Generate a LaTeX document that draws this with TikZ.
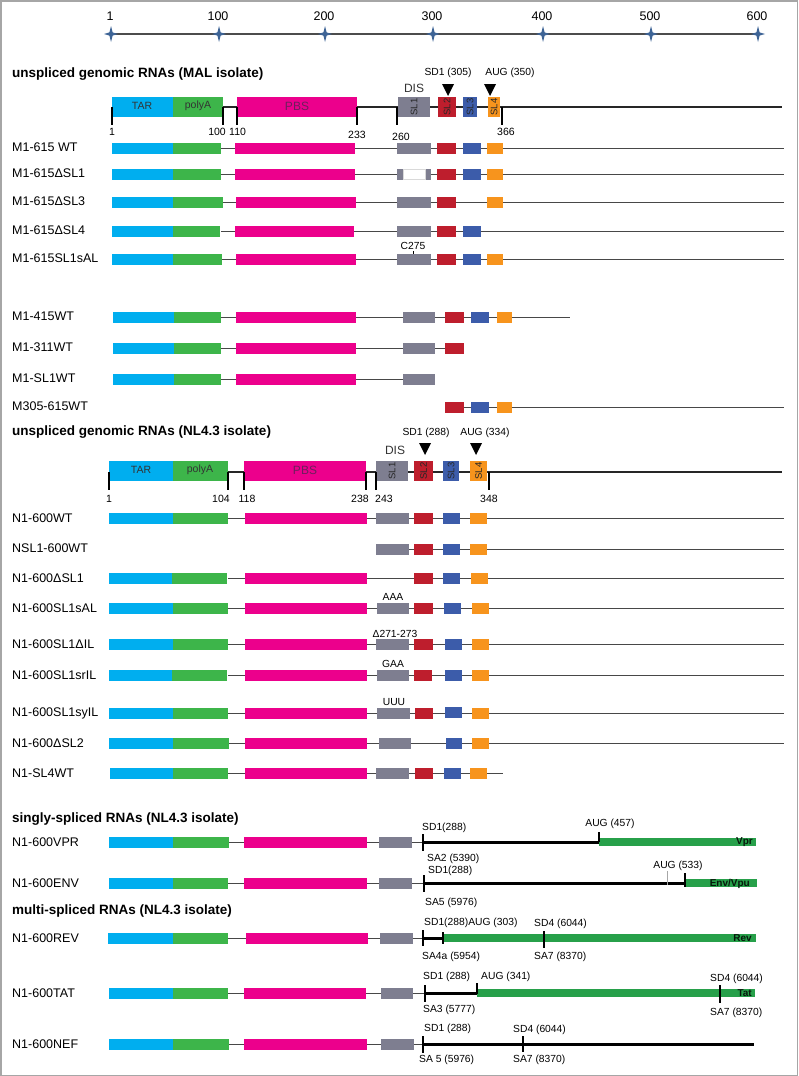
\documentclass[tikz,border=0pt]{standalone}
\usepackage{fontspec}
\setmainfont{Liberation Sans}
\definecolor{tar}{HTML}{00AEEF}
\definecolor{polya}{HTML}{3DB54A}
\definecolor{pbs}{HTML}{EC008C}
\definecolor{sl1}{HTML}{7E7E90}
\definecolor{sl2}{HTML}{BE1E2D}
\definecolor{sl3}{HTML}{3C5CAA}
\definecolor{sl4}{HTML}{F7941D}
\definecolor{orf}{HTML}{27A04A}
\definecolor{starblue}{HTML}{3E6496}
\definecolor{pbstxt}{HTML}{6D1F5D}
\newcommand\bx[5][5.5]{\fill[#2] (#3,#5-#1) rectangle (#4,#5+#1);}
\tikzset{
  frame/.style={draw=black!35,line width=1.5pt},
  rowline/.style={draw=black!72,line width=1pt},
  hdrline/.style={draw=black!85,line width=1.1pt},
  tickline/.style={draw=black,line width=1.2pt},
  thick line/.style={draw=black,line width=3pt},
  lbl/.style={anchor=west,font=\fontsize{12.5}{13}\selectfont,inner sep=0pt},
  hdr/.style={anchor=west,font=\bfseries\fontsize{13.5}{14}\selectfont,inner sep=0pt},
  small/.style={font=\fontsize{10.3}{11}\selectfont,inner sep=0pt},
  mapnum/.style={font=\fontsize{10.5}{11}\selectfont,inner sep=0pt},
  scalenum/.style={font=\fontsize{12.5}{13}\selectfont,inner sep=0pt},
  boxtxt/.style={font=\fontsize{10.5}{11}\selectfont,inner sep=0pt,text=black!80},
  pbsbox/.style={font=\fontsize{12}{12}\selectfont,inner sep=0pt,text=pbstxt},
  sltxt/.style={font=\fontsize{9.5}{10}\selectfont,inner sep=0pt,rotate=90,text=black!85},
  orftxt/.style={font=\bfseries\fontsize{10}{10}\selectfont,inner sep=0pt,anchor=east,text=black!85!orf},
  tri/.style={fill=black},
}
\begin{document}
\begin{tikzpicture}[x=1pt,y=-1pt]
\useasboundingbox (0,0) rectangle (798,1076);
\draw[frame] (0.75,0.75) rectangle (797.25,1075.25);

% ---------- scale ----------
\draw[black!70,line width=1.3pt] (111,34) -- (758,34);
\foreach \xx/\lab [count=\k] in {111/1,219/100,325/200,433/300,543/400,651/500,758/600} {
  \fill[starblue] (\xx,26) -- (\xx+1.6,32.4) -- (\xx+7,34) -- (\xx+1.6,35.6) -- (\xx,42) -- (\xx-1.6,35.6) -- (\xx-7,34) -- (\xx-1.6,32.4) -- cycle;
  \node[scalenum] (s\k) at (\xx-1,16) {\lab};
}

% ---------- MAL header ----------
\node[hdr] (hmal) at (12,74) {unspliced genomic RNAs (MAL isolate)};
\draw[hdrline] (112,107) -- (782,107);
\bx[10]{tar}{112}{173}{107}
\bx[10]{polya}{173}{223}{107}
\bx[10]{pbs}{237}{357}{107}
\bx[10]{sl1}{398}{430}{107}
\bx[10]{sl2}{438}{456}{107}
\bx[10]{sl3}{463}{477}{107}
\bx[10]{sl4}{488}{500}{107}
\foreach \xx in {112,223,237,357,397,502} \draw[tickline] (\xx,107) -- (\xx,125);
\node[boxtxt] (mtar) at (142,106) {TAR};
\node[boxtxt] (mpolya) at (198,106) {polyA};
\node[pbsbox] (mpbs) at (297,106) {PBS};
\node[sltxt] (msl1) at (414,107) {SL1};
\node[sltxt] (msl2) at (447,107) {SL2};
\node[sltxt] (msl3) at (470,107) {SL3};
\node[sltxt] (msl4) at (494,107) {SL4};
\node[font=\fontsize{12}{12}\selectfont,inner sep=0pt,text=black!80] (mdis) at (414,88) {DIS};
\node[small] (msd1) at (448,73) {SD1 (305)};
\node[small] (maug) at (510,73) {AUG (350)};
\fill[tri] (442,84) -- (454,84) -- (448,96) -- cycle;
\fill[tri] (484,84) -- (496,84) -- (490,96) -- cycle;
\node[mapnum] (mn1) at (112,132) {1};
\node[mapnum,anchor=east] (mn100) at (226,132) {100};
\node[mapnum,anchor=west] (mn110) at (229,132) {110};
\node[mapnum] (mn233) at (357,135) {233};
\node[mapnum] (mn260) at (401,137) {260};
\node[mapnum] (mn366) at (506,132) {366};

% ---------- MAL rows ----------
\draw[rowline] (221,148) -- (784,148);
\bx{tar}{112}{173}{148}\bx{polya}{173}{221}{148}\bx{pbs}{235}{355}{148}
\bx{sl1}{397}{431}{148}\bx{sl2}{437}{456}{148}\bx{sl3}{463}{481}{148}\bx{sl4}{487}{503}{148}
\node[lbl] (r1) at (12,147) {M1-615 WT};
\draw[rowline] (221,174) -- (784,174);
\bx{tar}{112}{173}{174}\bx{polya}{173}{221}{174}\bx{pbs}{235}{355}{174}
\bx{sl1}{397}{431}{174}\fill[white,draw=black!15,line width=0.4pt] (403,168.8) rectangle (425,179.2);
\bx{sl2}{437}{456}{174}\bx{sl3}{463}{481}{174}\bx{sl4}{487}{503}{174}
\node[lbl] (r2) at (12,173) {M1-615ΔSL1};
\draw[rowline] (221,202) -- (784,202);
\bx{tar}{112}{173}{202}\bx{polya}{173}{223}{202}\bx{pbs}{236}{356}{202}
\bx{sl1}{397}{431}{202}\bx{sl2}{437}{456}{202}\bx{sl4}{487}{503}{202}
\node[lbl] (r3) at (12,201) {M1-615ΔSL3};
\draw[rowline] (221,231) -- (784,231);
\bx{tar}{112}{173}{231}\bx{polya}{173}{220}{231}\bx{pbs}{235}{354}{231}
\bx{sl1}{397}{431}{231}\bx{sl2}{437}{456}{231}\bx{sl3}{463}{481}{231}
\node[lbl] (r4) at (12,230) {M1-615ΔSL4};
\draw[rowline] (221,259) -- (784,259);
\bx{tar}{112}{173}{259}\bx{polya}{173}{222}{259}\bx{pbs}{236}{356}{259}
\bx{sl1}{397}{431}{259}\bx{sl2}{437}{456}{259}\bx{sl3}{463}{481}{259}\bx{sl4}{487}{503}{259}
\draw[black,line width=0.6pt] (413,251) -- (413,254);
\node[small] (c275) at (413,246) {C275};
\node[lbl] (r5) at (12,258) {M1-615SL1sAL};

\draw[rowline] (221,317) -- (570,317);
\bx{tar}{113}{174}{317}\bx{polya}{174}{221}{317}\bx{pbs}{236}{356}{317}
\bx{sl1}{403}{435}{317}\bx{sl2}{445}{464}{317}\bx{sl3}{471}{489}{317}\bx{sl4}{497}{512}{317}
\node[lbl] (r6) at (12,316) {M1-415WT};
\draw[rowline] (221,348) -- (445,348);
\bx{tar}{113}{174}{348}\bx{polya}{174}{221}{348}\bx{pbs}{236}{356}{348}
\bx{sl1}{403}{435}{348}\bx{sl2}{445}{464}{348}
\node[lbl] (r7) at (12,347) {M1-311WT};
\draw[rowline] (221,379) -- (403,379);
\bx{tar}{113}{174}{379}\bx{polya}{174}{221}{379}\bx{pbs}{236}{356}{379}
\bx{sl1}{403}{435}{379}
\node[lbl] (r8) at (12,378) {M1-SL1WT};
\draw[rowline] (464,407) -- (784,407);
\bx{sl2}{445}{464}{407}\bx{sl3}{471}{489}{407}\bx{sl4}{497}{512}{407}
\node[lbl] (r9) at (12,406) {M305-615WT};

% ---------- NL4.3 header ----------
\node[hdr] (hnl) at (12,432) {unspliced genomic RNAs (NL4.3 isolate)};
\draw[hdrline] (109,472) -- (782,472);
\bx[10]{tar}{109}{173}{471}
\bx[10]{polya}{173}{228}{471}
\bx[10]{pbs}{244}{366}{471}
\bx[10]{sl1}{376}{408}{471}
\bx[10]{sl2}{414}{433}{471}
\bx[10]{sl3}{443}{459}{471}
\bx[10]{sl4}{470}{487}{471}
\foreach \xx in {109,228,244,366,376,489} \draw[tickline] (\xx,472) -- (\xx,490);
\node[boxtxt] (ntar) at (141,470) {TAR};
\node[boxtxt] (npolya) at (200,470) {polyA};
\node[pbsbox] (npbs) at (305,470) {PBS};
\node[sltxt] (nsl1) at (392,471) {SL1};
\node[sltxt] (nsl2) at (423.5,471) {SL2};
\node[sltxt] (nsl3) at (451,471) {SL3};
\node[sltxt] (nsl4) at (478.5,471) {SL4};
\node[font=\fontsize{12}{12}\selectfont,inner sep=0pt,text=black!80] (ndis) at (395,450) {DIS};
\node[small] (nsd1) at (426,433) {SD1 (288)};
\node[small] (naug) at (485,433) {AUG (334)};
\fill[tri] (419,443) -- (431,443) -- (425,455) -- cycle;
\fill[tri] (470,443) -- (482,443) -- (476,455) -- cycle;
\node[mapnum] (nn1) at (109,499) {1};
\node[mapnum] (nn104) at (221,499) {104};
\node[mapnum] (nn118) at (247,499) {118};
\node[mapnum] (nn238) at (360,499) {238};
\node[mapnum] (nn243) at (384,499) {243};
\node[mapnum] (nn348) at (489,499) {348};

% ---------- NL4.3 rows ----------
\draw[rowline] (228,518) -- (784,518);
\bx{tar}{109}{173}{518}\bx{polya}{173}{228}{518}\bx{pbs}{245}{367}{518}
\bx{sl1}{376}{409}{518}\bx{sl2}{414}{433}{518}\bx{sl3}{443}{460}{518}\bx{sl4}{470}{487}{518}
\node[lbl] (q1) at (12,518) {N1-600WT};
\draw[rowline] (376,549) -- (784,549);
\bx{sl1}{376}{409}{549}\bx{sl2}{414}{433}{549}\bx{sl3}{443}{460}{549}\bx{sl4}{470}{487}{549}
\node[lbl] (q2) at (12,548) {NSL1-600WT};
\draw[rowline] (228,578) -- (784,578);
\bx{tar}{109}{172}{578}\bx{polya}{172}{227}{578}\bx{pbs}{245}{367}{578}
\bx{sl2}{414}{433}{578}\bx{sl3}{443}{460}{578}\bx{sl4}{471}{488}{578}
\node[lbl] (q3) at (12,578) {N1-600ΔSL1};
\draw[rowline] (228,608) -- (784,608);
\bx{tar}{109}{173}{608}\bx{polya}{173}{228}{608}\bx{pbs}{245}{367}{608}
\bx{sl1}{377}{409}{608}\bx{sl2}{414}{433}{608}\bx{sl3}{444}{461}{608}\bx{sl4}{472}{489}{608}
\node[small] (aaa) at (393,597) {AAA};
\node[lbl] (q4) at (12,608) {N1-600SL1sAL};
\draw[rowline] (228,644) -- (784,644);
\bx{tar}{109}{173}{644}\bx{polya}{173}{228}{644}\bx{pbs}{245}{367}{644}
\bx{sl1}{376}{409}{644}\bx{sl2}{414}{433}{644}\bx{sl3}{445}{462}{644}\bx{sl4}{472}{489}{644}
\node[small] (d271) at (395,634) {Δ271-273};
\node[lbl] (q5) at (12,644) {N1-600SL1ΔIL};
\draw[rowline] (228,675) -- (784,675);
\bx{tar}{109}{172}{675}\bx{polya}{172}{227}{675}\bx{pbs}{245}{367}{675}
\bx{sl1}{377}{409}{675}\bx{sl2}{414}{432}{675}\bx{sl3}{445}{462}{675}\bx{sl4}{472}{489}{675}
\node[small] (gaa) at (393,664) {GAA};
\node[lbl] (q6) at (12,675) {N1-600SL1srIL};
\draw[rowline] (228,713) -- (784,713);
\bx{tar}{109}{173}{713}\bx{polya}{173}{228}{713}\bx{pbs}{245}{367}{713}
\bx{sl1}{377}{410}{713}\bx{sl2}{415}{433}{713}\bx{sl3}{445}{462}{712}\bx{sl4}{472}{489}{713}
\node[small] (uuu) at (394,702) {UUU};
\node[lbl] (q7) at (12,713) {N1-600SL1syIL};
\draw[rowline] (228,743) -- (784,743);
\bx{tar}{109}{173}{743}\bx{polya}{173}{229}{743}\bx{pbs}{245}{367}{743}
\bx{sl1}{379}{411}{743}\bx{sl3}{446}{462}{743}\bx{sl4}{472}{489}{743}
\node[lbl] (q8) at (12,743) {N1-600ΔSL2};
\draw[rowline] (228,773) -- (503,773);
\bx{tar}{110}{173}{773}\bx{polya}{173}{228}{773}\bx{pbs}{245}{367}{773}
\bx{sl1}{376}{409}{773}\bx{sl2}{415}{433}{773}\bx{sl3}{444}{461}{773}\bx{sl4}{470}{487}{773}
\node[lbl] (q9) at (12,773) {N1-SL4WT};

% ---------- singly spliced ----------
\node[hdr] (hss) at (12,819) {singly-spliced RNAs (NL4.3 isolate)};
\draw[rowline] (229,842) -- (423,842);
\bx{tar}{109}{173}{842}\bx{polya}{173}{229}{842}\bx{pbs}{244}{367}{842}\bx{sl1}{379}{412}{842}
\draw[thick line] (423,842) -- (599,842);
\bx[4]{orf}{599}{756}{842}
\draw[tickline] (423,834) -- (423,851);
\draw[tickline] (599,832) -- (599,842);
\node[orftxt] (vpr) at (753,842.5) {Vpr};
\node[small,anchor=west] (vsd1) at (422,828) {SD1(288)};
\node[small] (vaug) at (610,824) {AUG (457)};
\node[small,anchor=west] (vsa2) at (427,859) {SA2 (5390)};
\node[lbl] (p1) at (12,842) {N1-600VPR};
\draw[rowline] (228,883) -- (424,883);
\bx{tar}{109}{173}{883}\bx{polya}{173}{228}{883}\bx{pbs}{244}{367}{883}\bx{sl1}{379}{412}{883}
\draw[thick line] (424,883) -- (685,883);
\bx[4]{orf}{685}{757}{883}
\draw[black!35,line width=0.5pt] (667,871) -- (667,885);
\draw[tickline] (424,875) -- (424,892);
\draw[tickline] (685,873) -- (685,887);
\node[orftxt] (env) at (750,884) {Env/Vpu};
\node[small,anchor=west] (esd1) at (428,871) {SD1(288)};
\node[small] (eaug) at (678,866) {AUG (533)};
\node[small,anchor=west] (esa5) at (425,903) {SA5 (5976)};
\node[lbl] (p2) at (12,883) {N1-600ENV};

% ---------- multi spliced ----------
\node[hdr] (hms) at (12,911) {multi-spliced RNAs (NL4.3 isolate)};
\draw[rowline] (228,938) -- (423,938);
\bx{tar}{108}{173}{938}\bx{polya}{173}{228}{938}\bx{pbs}{246}{368}{938}\bx{sl1}{380}{413}{938}
\draw[thick line] (423,938) -- (443,938);
\bx[4]{orf}{443}{756}{938}
\draw[tickline] (423,930) -- (423,946);
\draw[tickline] (443,932) -- (443,944);
\draw[tickline] (544,931) -- (544,948);
\node[orftxt] (rev) at (752,938.5) {Rev};
\node[small,anchor=west] (rsd1) at (424,923) {SD1(288)AUG (303)};
\node[small,anchor=west] (rsd4) at (534,924) {SD4 (6044)};
\node[small,anchor=west] (rsa4) at (422,957) {SA4a (5954)};
\node[small,anchor=west] (rsa7) at (534,957) {SA7 (8370)};
\node[lbl] (p3) at (12,938) {N1-600REV};
\draw[rowline] (228,993) -- (425,993);
\bx{tar}{109}{173}{993}\bx{polya}{173}{228}{993}\bx{pbs}{244}{366}{993}\bx{sl1}{381}{413}{993}
\draw[thick line] (425,993) -- (477,993);
\bx[4]{orf}{477}{755}{993}
\draw[tickline] (425,985) -- (425,1002);
\draw[tickline] (477,983) -- (477,994);
\draw[tickline] (720,985) -- (720,1003);
\node[orftxt] (tat) at (752,993.5) {Tat};
\node[small,anchor=west] (tsd1) at (423,977) {SD1 (288)};
\node[small,anchor=west] (taug) at (481,977) {AUG (341)};
\node[small,anchor=west] (tsd4) at (710,979) {SD4 (6044)};
\node[small,anchor=west] (tsa3) at (423,1010) {SA3 (5777)};
\node[small,anchor=west] (tsa7) at (710,1013) {SA7 (8370)};
\node[lbl] (p4) at (12,993) {N1-600TAT};
\draw[rowline] (228,1044) -- (423,1044);
\bx{tar}{109}{173}{1044}\bx{polya}{173}{229}{1044}\bx{pbs}{244}{367}{1044}\bx{sl1}{381}{414}{1044}
\draw[thick line] (423,1044) -- (754,1044);
\draw[tickline] (423,1036) -- (423,1053);
\draw[tickline] (523,1036) -- (523,1052);
\node[small,anchor=west] (fsd1) at (424,1029) {SD1 (288)};
\node[small,anchor=west] (fsd4) at (513,1030) {SD4 (6044)};
\node[small,anchor=west] (fsa5) at (419,1060) {SA 5 (5976)};
\node[small,anchor=west] (fsa7) at (513,1060) {SA7 (8370)};
\node[lbl] (p5) at (12,1044) {N1-600NEF};
\end{tikzpicture}
\end{document}
